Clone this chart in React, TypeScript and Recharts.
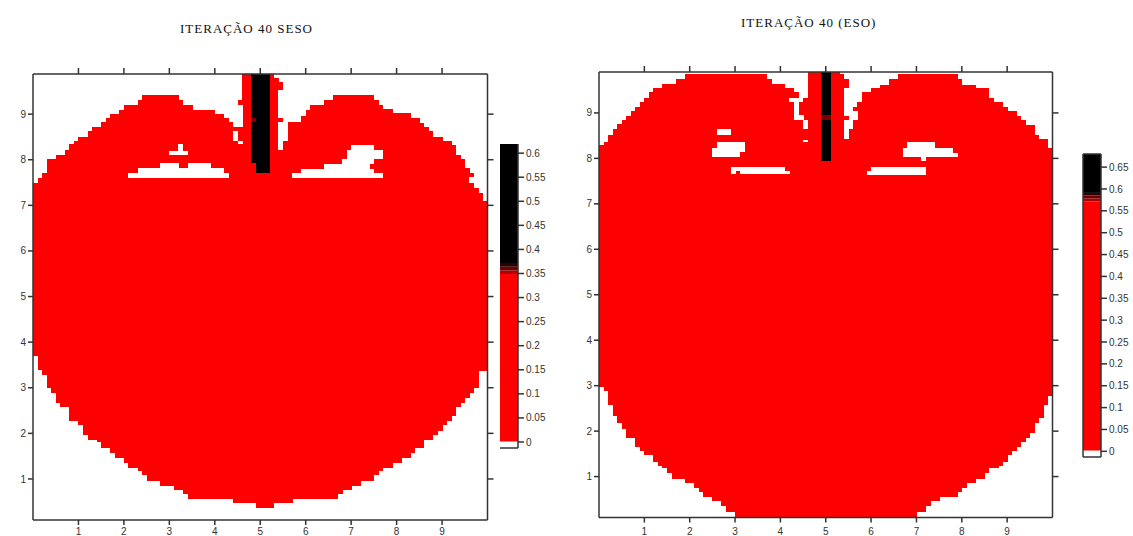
import React from "react";
import { BarChart, Bar, XAxis, YAxis } from "recharts";

// column edges of the red shape, one value per 0.1 wide cell along x
const leftTop = [
  7.5, 7.6, 7.72, 8.01, 8.01, 8.1, 8.1, 8.21, 8.34, 8.4,
  8.5, 8.5, 8.62, 8.72, 8.72, 8.82, 8.91, 9.01, 9.01, 9.1,
  9.2, 9.2, 9.2, 9.31, 9.43, 9.43, 9.43, 9.43, 9.43, 9.43,
  9.43, 9.43, 9.31, 9.2, 9.2, 9.1, 9.1, 9.1, 9.1, 9.1,
  9.01, 9.01, 8.91, 8.82, 8.72, 9.31, 9.88, 9.88, 9.88, 9.88,
  9.88, 9.88, 9.88, 9.8, 9.71, 8.4, 8.82, 8.82, 8.82, 8.95,
  9.1, 9.2, 9.2, 9.2, 9.31, 9.31, 9.43, 9.43, 9.43, 9.43,
  9.43, 9.43, 9.43, 9.43, 9.43, 9.31, 9.21, 9.11, 9.11, 9.02,
  9.02, 9.02, 9.02, 8.91, 8.91, 8.81, 8.71, 8.62, 8.49, 8.49,
  8.4, 8.4, 8.32, 8.1, 8.01, 7.81, 7.72, 7.39, 7.28, 7.1,
];
const leftBottom = [
  3.7, 3.38, 3.29, 2.99, 2.89, 2.67, 2.57, 2.57, 2.28, 2.28,
  2.18, 1.96, 1.86, 1.86, 1.8, 1.67, 1.67, 1.56, 1.47, 1.47,
  1.34, 1.25, 1.25, 1.18, 1.08, 0.96, 0.96, 0.96, 0.85, 0.85,
  0.85, 0.76, 0.76, 0.66, 0.57, 0.57, 0.57, 0.57, 0.57, 0.57,
  0.57, 0.57, 0.57, 0.57, 0.47, 0.47, 0.47, 0.47, 0.47, 0.37,
  0.37, 0.37, 0.37, 0.47, 0.47, 0.47, 0.47, 0.57, 0.57, 0.57,
  0.57, 0.57, 0.57, 0.57, 0.57, 0.57, 0.57, 0.66, 0.76, 0.76,
  0.85, 0.85, 0.96, 0.96, 0.96, 1.08, 1.18, 1.25, 1.25, 1.34,
  1.34, 1.47, 1.47, 1.56, 1.67, 1.67, 1.86, 1.86, 1.96, 2.06,
  2.18, 2.28, 2.37, 2.57, 2.67, 2.77, 2.89, 2.99, 3.37, 3.37,
];
const rightTop = [
  8.3, 8.36, 8.52, 8.65, 8.75, 8.85, 8.94, 9.04, 9.13, 9.23,
  9.33, 9.45, 9.55, 9.55, 9.63, 9.63, 9.63, 9.75, 9.75, 9.85,
  9.85, 9.85, 9.85, 9.85, 9.85, 9.85, 9.85, 9.85, 9.85, 9.85,
  9.85, 9.85, 9.85, 9.85, 9.85, 9.85, 9.85, 9.75, 9.63, 9.63,
  9.63, 9.55, 9.55, 9.45, 9.24, 9.33, 9.9, 9.9, 9.9, 9.9,
  9.9, 9.9, 9.9, 9.85, 9.75, 8.65, 9.13, 9.24, 9.46, 9.46,
  9.55, 9.55, 9.62, 9.62, 9.75, 9.75, 9.85, 9.85, 9.85, 9.85,
  9.85, 9.85, 9.85, 9.85, 9.85, 9.85, 9.85, 9.85, 9.85, 9.75,
  9.62, 9.62, 9.62, 9.55, 9.55, 9.55, 9.33, 9.24, 9.24, 9.13,
  9.04, 9.04, 8.94, 8.85, 8.74, 8.74, 8.52, 8.43, 8.42, 8.23,
];
const rightBottom = [
  2.96, 2.89, 2.57, 2.34, 2.17, 2.04, 1.85, 1.85, 1.66, 1.56,
  1.47, 1.47, 1.33, 1.23, 1.18, 1.07, 0.94, 0.94, 0.94, 0.85,
  0.85, 0.74, 0.65, 0.55, 0.55, 0.46, 0.46, 0.35, 0.23, 0.23,
  0.12, 0.12, 0.12, 0.12, 0.12, 0.12, 0.12, 0.12, 0.12, 0.12,
  0.12, 0.12, 0.12, 0.12, 0.12, 0.12, 0.12, 0.12, 0.12, 0.12,
  0.12, 0.12, 0.12, 0.12, 0.12, 0.12, 0.12, 0.12, 0.12, 0.12,
  0.12, 0.12, 0.12, 0.12, 0.12, 0.12, 0.12, 0.12, 0.12, 0.12,
  0.23, 0.23, 0.35, 0.46, 0.46, 0.55, 0.55, 0.55, 0.55, 0.65,
  0.74, 0.85, 0.85, 0.94, 0.94, 1.07, 1.18, 1.18, 1.23, 1.33,
  1.47, 1.56, 1.66, 1.76, 1.85, 1.95, 2.17, 2.28, 2.57, 2.77,
];

// [first column, last column, low value, high value]
type Band = [number, number, number, number];

const leftHoles: Band[] = [
  [30, 33, 8.1, 8.2], [32, 32, 8.2, 8.34],
  [21, 22, 7.61, 7.72], [23, 27, 7.61, 7.81], [28, 31, 7.61, 7.92], [32, 33, 7.61, 7.81],
  [34, 38, 7.61, 7.92], [39, 41, 7.61, 7.81], [42, 42, 7.61, 7.72],
  [44, 44, 8.4, 8.62], [45, 45, 8.34, 8.4], [45, 45, 8.72, 9.2],
  [54, 54, 8.91, 9.53], [54, 54, 8.21, 8.82],
  [57, 58, 7.61, 7.72], [59, 63, 7.61, 7.8], [64, 67, 7.61, 7.91], [68, 68, 7.61, 8.01],
  [69, 69, 7.61, 8.21], [70, 73, 7.61, 8.32], [74, 74, 7.61, 7.79], [74, 74, 7.91, 8.32],
  [75, 76, 7.61, 7.7], [75, 76, 8.01, 8.21],
  [96, 96, 7.48, 7.62],
];
const leftBlack: Band[] = [[48, 48, 7.92, 9.88], [49, 51, 7.72, 9.88]];
const leftDark: Band[] = [[48, 48, 8.82, 8.91], [48, 48, 7.82, 7.92]];

const rightHoles: Band[] = [
  [26, 28, 8.52, 8.65], [25, 25, 8.03, 8.23], [26, 30, 8.03, 8.36], [31, 31, 8.14, 8.36],
  [29, 29, 7.65, 7.81], [30, 30, 7.73, 7.81], [31, 40, 7.65, 7.81], [41, 41, 7.65, 7.73],
  [42, 42, 9.24, 9.33], [43, 43, 8.85, 9.33], [44, 44, 8.85, 8.95], [45, 45, 8.65, 8.85], [45, 45, 8.36, 8.41],
  [54, 54, 8.94, 9.55], [54, 54, 8.42, 8.85], [56, 56, 8.85, 9.05],
  [67, 67, 8.02, 8.22], [68, 73, 8.02, 8.35], [71, 71, 7.94, 8.02], [74, 77, 8.02, 8.22], [78, 78, 8.02, 8.12],
  [59, 59, 7.63, 7.73], [60, 71, 7.63, 7.8],
];
const rightBlack: Band[] = [[49, 50, 7.94, 9.9]];
const rightDark: Band[] = [[49, 50, 8.85, 8.95]];

const axisTicks = [1, 2, 3, 4, 5, 6, 7, 8, 9];

const leftBarTicks = [0, 0.05, 0.1, 0.15, 0.2, 0.25, 0.3, 0.35, 0.4, 0.45, 0.5, 0.55, 0.6];
const rightBarTicks = [0, 0.05, 0.1, 0.15, 0.2, 0.25, 0.3, 0.35, 0.4, 0.45, 0.5, 0.55, 0.6, 0.65];
const leftBarEdges = [-0.0125, 0.001, 0.349, 0.356, 0.364, 0.372, 0.619];
const rightBarEdges = [-0.013, 0.002, 0.571, 0.578, 0.585, 0.591, 0.68];
const barColors = ["#ffffff", "#ff0000", "#b00000", "#700000", "#300000", "#000000"];

const AXIS = "#333333";
const tickStyle = { fontFamily: "Liberation Sans", fontSize: 10, fill: "#333333" };
const blank = () => "";
const LAYERS = ["red", "black", "dark", "hole0", "hole1", "hole2"];
const COLORS: Record<string, string> = {
  red: "#ff0000", black: "#000000", dark: "#7a0000",
  hole0: "#ffffff", hole1: "#ffffff", hole2: "#ffffff",
};

const bandsAt = (bands: Band[], col: number) =>
  bands.filter((b) => col >= b[0] && col <= b[1]).map((b) => [b[2], b[3]]);

function buildRows(top: number[], bottom: number[], holes: Band[], black: Band[], dark: Band[]) {
  return top.map((t, col) => {
    const h = bandsAt(holes, col);
    return {
      col,
      red: [bottom[col], t],
      black: bandsAt(black, col)[0] ?? null,
      dark: bandsAt(dark, col)[0] ?? null,
      hole0: h[0] ?? null,
      hole1: h[1] ?? null,
      hole2: h[2] ?? null,
    };
  });
}

interface PanelProps {
  rows: ReturnType<typeof buildRows>;
  left: number;
  top: number;
  width: number;
  height: number;
  yDomain: [number, number];
  tickMargin: number;
}

const overlay: React.CSSProperties = { position: "absolute", left: 0, top: 0 };

function Panel({ rows, left, top, width, height, yDomain, tickMargin }: PanelProps) {
  const chartWidth = width + 40;
  const chartHeight = height + 28;
  const margin = { top: 8, right: 10, bottom: 20, left: 30 };
  return (
    <div style={{ position: "absolute", left: left - 30, top: top - 8 }}>
      <div style={overlay}>
        <BarChart width={chartWidth} height={chartHeight} data={rows} barCategoryGap={0} margin={margin}>
          {LAYERS.map((k) => (
            <XAxis key={k} xAxisId={k} dataKey="col" hide />
          ))}
          <YAxis yAxisId="l" type="number" domain={yDomain} hide allowDataOverflow />
          {LAYERS.map((k) => (
            <Bar key={k} xAxisId={k} yAxisId="l" dataKey={k} fill={COLORS[k]} shapeRendering="crispEdges" isAnimationActive={false} />
          ))}
        </BarChart>
      </div>
      {/* frame sits in its own chart so the dark lines stay above the red */}
      <div style={overlay}>
        <BarChart width={chartWidth} height={chartHeight} data={rows} margin={{ top: 0, right: 0, bottom: 0, left: 0 }}>
          <XAxis xAxisId="b" dataKey="col" type="number" domain={[0, 10]} ticks={axisTicks} interval={0} height={20}
            stroke={AXIS} strokeWidth={1.5} tick={tickStyle} tickSize={5} tickMargin={tickMargin} allowDataOverflow />
          <XAxis xAxisId="t" dataKey="col" orientation="top" type="number" domain={[0, 10]} ticks={axisTicks} interval={0} height={8}
            stroke={AXIS} strokeWidth={1.5} tick={tickStyle} tickFormatter={blank} tickSize={6} allowDataOverflow />
          <YAxis yAxisId="l" type="number" domain={yDomain} ticks={axisTicks} interval={0} width={30}
            stroke={AXIS} strokeWidth={1.5} tick={tickStyle} tickSize={5} tickMargin={2} allowDataOverflow />
          <YAxis yAxisId="r" orientation="right" type="number" domain={yDomain} ticks={axisTicks} interval={0} width={10}
            stroke={AXIS} strokeWidth={1.5} tick={tickStyle} tickFormatter={blank} tickSize={6} allowDataOverflow />
        </BarChart>
      </div>
    </div>
  );
}

interface ColorbarProps {
  left: number;
  top: number;
  height: number;
  edges: number[];
  ticks: number[];
  framed: boolean;
}

function Colorbar({ left, top, height, edges, ticks, framed }: ColorbarProps) {
  const row: Record<string, number[] | string> = { name: "bar" };
  barColors.forEach((_, i) => {
    row[`s${i}`] = [edges[i], edges[i + 1]];
  });
  const domain: [number, number] = [edges[0], edges[edges.length - 1]];
  const chartWidth = 4 + 18 + 36;
  const chartHeight = height + 8;
  return (
    <div style={{ position: "absolute", left: left - 4, top: top - 4 }}>
      <div style={overlay}>
        <BarChart width={chartWidth} height={chartHeight} data={[row]} barCategoryGap={0}
          margin={{ top: 4, right: 36, bottom: 4, left: 4 }}>
          {barColors.map((_, i) => (
            <XAxis key={i} xAxisId={`s${i}`} dataKey="name" hide />
          ))}
          <YAxis yAxisId="v" type="number" domain={domain} hide allowDataOverflow />
          {barColors.map((c, i) => (
            <Bar key={c} xAxisId={`s${i}`} yAxisId="v" dataKey={`s${i}`} fill={c} isAnimationActive={false} />
          ))}
        </BarChart>
      </div>
      <div style={overlay}>
        <BarChart width={chartWidth} height={chartHeight} data={[row]}
          margin={{ top: framed ? 3 : 4, right: 0, bottom: 3, left: framed ? 0 : 4 }}>
          <XAxis xAxisId="bottom" dataKey="name" height={1} tick={false} tickLine={false} stroke={AXIS} strokeWidth={1.5} />
          {framed && <XAxis xAxisId="top" orientation="top" dataKey="name" height={1} tick={false} tickLine={false} stroke={AXIS} strokeWidth={1.5} />}
          {framed && <YAxis yAxisId="frame" type="number" domain={domain} width={4} tick={false} tickLine={false} stroke={AXIS} strokeWidth={1.5} allowDataOverflow />}
          <YAxis yAxisId="v" orientation="right" type="number" domain={domain} ticks={ticks} interval={0} width={36}
            stroke={AXIS} strokeWidth={1.5} tick={tickStyle} tickSize={6} tickMargin={2} allowDataOverflow />
        </BarChart>
      </div>
    </div>
  );
}

const titleStyle: React.CSSProperties = {
  position: "absolute",
  fontFamily: "Liberation Serif",
  fontSize: 13,
  letterSpacing: 1,
  color: "#111111",
  whiteSpace: "nowrap",
};

export default function App() {
  return (
    <div style={{ position: "absolute", left: 0, top: 0, width: 1133, height: 536, overflow: "hidden", background: "#fff" }}>
      <div style={{ ...titleStyle, left: 180, top: 21 }}>ITERAÇÃO 40 SESO</div>
      <div style={{ ...titleStyle, left: 741, top: 15 }}>ITERAÇÃO 40 (ESO)</div>
      <Panel
        rows={buildRows(leftTop, leftBottom, leftHoles, leftBlack, leftDark)}
        left={32.5} top={74} width={454.5} height={446} yDomain={[0.1, 9.88]} tickMargin={3}
      />
      <Panel
        rows={buildRows(rightTop, rightBottom, rightHoles, rightBlack, rightDark)}
        left={599} top={71.5} width={453.5} height={445.5} yDomain={[0.1, 9.9]} tickMargin={5}
      />
      <Colorbar left={500} top={144} height={304} edges={leftBarEdges} ticks={leftBarTicks} framed={false} />
      <Colorbar left={1083} top={154} height={303} edges={rightBarEdges} ticks={rightBarTicks} framed />
    </div>
  );
}
